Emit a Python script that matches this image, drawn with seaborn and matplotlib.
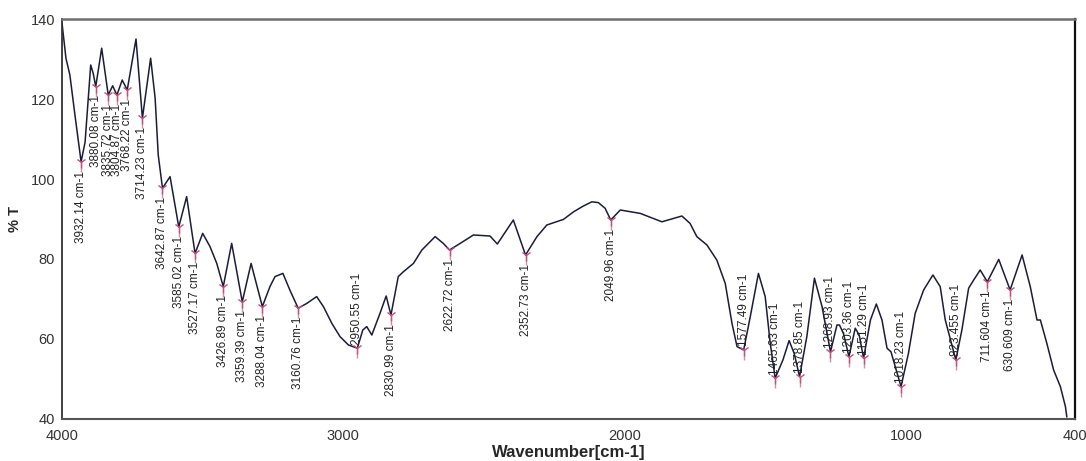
import matplotlib
matplotlib.use("Agg")
import matplotlib.pyplot as plt
from matplotlib.ticker import FixedLocator
import pandas as pd
import seaborn as sns

# ---- spectrum ----
wavenumber = [4000, 3986, 3972, 3954, 3932.14, 3918, 3898, 3889, 3880.08, 3859, 3835.72, 3820,
              3804.87, 3786, 3768.22, 3737, 3714.23, 3685, 3669, 3658, 3642.87, 3616, 3585.02,
              3557, 3527.17, 3500, 3474, 3450, 3426.89, 3397, 3359.39, 3328, 3288.04, 3261,
              3243, 3215, 3190, 3160.76, 3130, 3095, 3071, 3041, 3012, 2982, 2950.55, 2931,
              2917, 2899, 2870, 2848, 2830.99, 2805, 2787, 2751, 2721, 2674, 2645, 2622.72,
              2585, 2538, 2479, 2453, 2396, 2352.73, 2312, 2277, 2218, 2182, 2147, 2117, 2094,
              2070, 2049.96, 2016, 1945, 1868, 1797, 1768, 1744, 1708, 1673, 1643, 1619, 1601,
              1577.49, 1554, 1525, 1501, 1483, 1465.63, 1438, 1416, 1398, 1378.85, 1353, 1326,
              1299, 1268.93, 1246, 1237, 1223, 1203.36, 1181, 1167, 1151.29, 1127, 1106, 1086,
              1068, 1054, 1018.23, 992, 968, 938, 905, 879, 861, 823.455, 802, 778, 760, 737,
              711.604, 671, 630.609, 588, 559, 535, 523, 500, 476, 452, 434, 429]
transmittance = [139, 130.2, 126, 116, 104.3, 109.2, 128.5, 126.4, 123.1, 132.7, 121, 123.3,
                 121, 124.75, 122.25, 135, 115.2, 130.2, 120.2, 106, 97.7, 100.6, 88,
                 95.6, 81.4, 86.4, 83.1, 78.9, 73.1, 83.9, 69.3, 78.9, 68.1, 73.1,
                 75.6, 76.4, 72.2, 67.7, 68.9, 70.6, 68.1, 63.9, 60.6, 58.5, 57.7, 62.25,
                 63.1, 61, 66.4, 70.75, 66, 75.6, 76.8, 78.9, 82.25, 85.6, 83.9, 82.25,
                 83.9, 86, 85.75, 83.75, 89.75, 81, 85.6, 88.5, 89.9, 91.8, 93.25, 94.3, 94.1,
                 92.7, 89.75, 92.25, 91.4, 89.3, 90.75, 88.9, 85.6, 83.5, 79.75, 73.9, 63.9, 58.1,
                 57.25, 65.6, 76.4, 70.6, 58.9, 50.2, 54.75, 59.6, 56.4, 50.6, 60.6, 75.2,
                 68.1, 56.8, 63.5, 63.5, 61.4, 55.6, 62.7, 61, 55.2, 64.75, 68.75, 64.75,
                 57.7, 56.8, 48.1, 56.4, 66.4, 72.25, 76, 73.1, 64.75, 54.75, 62.25, 72.7, 74.75, 77.25,
                 74.3, 79.9, 72.25, 81, 73.1, 64.75, 64.75, 58.9, 52.25, 48.1, 43.1, 40.5]

# ---- picked peaks ----
peak_wn = [3932.14, 3880.08, 3835.72, 3804.87, 3768.22, 3714.23, 3642.87, 3585.02, 3527.17,
           3426.89, 3359.39, 3288.04, 3160.76, 2950.55, 2830.99, 2622.72, 2352.73, 2049.96,
           1577.49, 1465.63, 1378.85, 1268.93, 1203.36, 1151.29, 1018.23, 823.455, 711.604, 630.609]
peak_T = [104.3, 123.1, 121, 121, 122.25, 115.2, 97.7, 88, 81.4,
          73.1, 69.3, 68.1, 67.7, 57.7, 66, 82.25, 81, 89.75,
          57.25, 50.2, 50.6, 56.8, 55.6, 55.2, 48.1, 54.75, 74.3, 72.25]
peak_labels = ["3932.14 cm-1", "3880.08 cm-1", "3835.72 cm-1", "3804.87 cm-1", "3768.22 cm-1",
               "3714.23 cm-1", "3642.87 cm-1", "3585.02 cm-1", "3527.17 cm-1", "3426.89 cm-1",
               "3359.39 cm-1", "3288.04 cm-1", "3160.76 cm-1", "2950.55 cm-1", "2830.99 cm-1",
               "2622.72 cm-1", "2352.73 cm-1", "2049.96 cm-1", "1577.49 cm-1", "1465.63 cm-1",
               "1378.85 cm-1", "1268.93 cm-1", "1203.36 cm-1", "1151.29 cm-1", "1018.23 cm-1",
               "823.455 cm-1", "711.604 cm-1", "630.609 cm-1"]

x_major = [4000, 3000, 2000, 1000, 400]
x_minor = [3500, 2500, 1500, 500]
y_major = [40, 60, 80, 100, 120, 140]
y_minor = [50, 70, 90, 110, 130]

sns.set_style("white")
plt.rcParams["font.family"] = ["Liberation Sans", "DejaVu Sans"]

W, H = 1086, 461
fig = plt.figure(figsize=(W / 100, H / 100), dpi=100)
ax = fig.add_axes([62 / W, 1 - 419 / H, (1075 - 62) / W, 400 / H])

df = pd.DataFrame({"wn": wavenumber, "T": transmittance})
sns.lineplot(data=df, x="wn", y="T", sort=False, color="#1c1c3a", linewidth=1.1, ax=ax)

pink = "#c2507c"
ax.vlines(peak_wn, [t - 2.5 for t in peak_T], peak_T, color="#d58aa6", linewidth=1.0, zorder=3)
ax.plot(peak_wn, peak_T, linestyle="none", marker="1", markersize=8, markeredgewidth=1.0,
        color=pink, zorder=4)

for w, t, s in zip(peak_wn, peak_T, peak_labels):
    if t - 21 < 40:
        ax.text(w, t + 0.9, s, rotation=90, ha="center", va="bottom", fontsize=8.5, color="#222222")
    else:
        ax.text(w, t - 2.2, s, rotation=90, ha="center", va="top", fontsize=8.5, color="#222222")

ax.set_xlim(4000, 400)
ax.set_ylim(40, 140)
ax.set_xticks(x_major)
ax.set_yticks(y_major)
ax.xaxis.set_minor_locator(FixedLocator(x_minor))
ax.yaxis.set_minor_locator(FixedLocator(y_minor))
ax.tick_params(which="major", direction="in", length=9, width=1, labelsize=10.5,
               labelcolor="#333333", color="#444444", pad=7)
ax.tick_params(which="minor", direction="in", length=5, width=1, color="#888888")
ax.tick_params(axis="y", pad=5)

ax.set_xlabel("Wavenumber[cm-1]", fontsize=12, fontweight="bold", labelpad=2)
ax.set_ylabel("% T", fontsize=10.5, fontweight="bold", labelpad=6)

ax.spines["top"].set_color("#707070")
ax.spines["top"].set_linewidth(1.8)
ax.spines["right"].set_color("#111111")
ax.spines["right"].set_linewidth(1.6)
ax.spines["bottom"].set_color("#555555")
ax.spines["bottom"].set_linewidth(1.5)
ax.spines["left"].set_color("#333333")
ax.spines["left"].set_linewidth(1.3)

fig.savefig("out.png", dpi=100)
